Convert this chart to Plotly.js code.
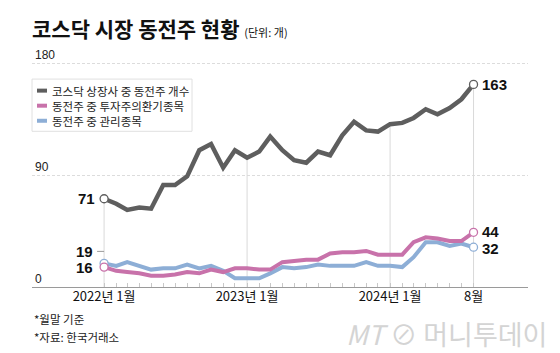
<!DOCTYPE html>
<html>
<head>
<meta charset="utf-8">
<script src="https://cdn.plot.ly/plotly-3.0.1.min.js"></script>
<style>
  html, body { margin: 0; padding: 0; background: #fff; }
  #chart { width: 560px; height: 353px; }
</style>
</head>
<body>
<div id="chart"></div>
<script>
// ---- data (month-end values) ----
const months = [
  '2022-01','2022-02','2022-03','2022-04','2022-05','2022-06','2022-07','2022-08','2022-09','2022-10','2022-11','2022-12',
  '2023-01','2023-02','2023-03','2023-04','2023-05','2023-06','2023-07','2023-08','2023-09','2023-10','2023-11','2023-12',
  '2024-01','2024-02','2024-03','2024-04','2024-05','2024-06','2024-07','2024-08'
];
const pennyStocks = [71,67,62,64,63,82,82,89,110,115,96,110,104,109,121,110,102,100,109,106,122,133,126,125,131,132,136,143,139,144,151,163];
const investmentAlert = [16,13,12,11,9,9,10,12,11,14,12,15,15,14,14,20,21,22,22,27,28,28,29,26,26,26,36,40,39,37,37,44];
const administrative = [19,17,20,17,14,15,15,18,15,17,13,7,7,7,11,16,15,16,18,17,17,17,20,17,17,16,24,36,36,33,35,32];

const seriesNames = ['코스닥 상장사 중 동전주 개수', '동전주 중 투자주의환기종목', '동전주 중 관리종목'];
const tickMonths = ['2022-01','2023-01','2024-01','2024-08'];
const tickLabels = ['2022년 1월','2023년 1월','2024년 1월','8월'];
const yTicks = [0, 90, 180];

// ---- styles ----
const colors = ['#5e5e5e', '#c872aa', '#8daed6'];
const KR = '"Noto Sans CJK KR", "Noto Sans", sans-serif';
const NUM = '"Liberation Sans Narrow", "Liberation Sans", Arial, sans-serif';

const seriesData = [pennyStocks, investmentAlert, administrative];
const last = months.length - 1;

// drop lines from the grey series at the labelled months
const dropX = [], dropY = [];
tickMonths.forEach(m => {
  const i = months.indexOf(m);
  dropX.push(months[i], months[i], null);
  dropY.push(0, pennyStocks[i], null);
});

const traces = [{
  x: dropX, y: dropY, mode: 'lines', hoverinfo: 'skip', showlegend: false,
  line: { color: '#d9d9d9', width: 1 }
}];

// draw blue, pink, then grey on top
[2, 1, 0].forEach(k => {
  traces.push({
    x: months, y: seriesData[k], mode: 'lines', name: seriesNames[k], showlegend: false,
    line: { color: colors[k], width: k === 0 ? 4.5 : 4, shape: 'linear' }
  });
});
[2, 1, 0].forEach(k => {
  traces.push({
    x: [months[0], months[last]], y: [seriesData[k][0], seriesData[k][last]],
    mode: 'markers', showlegend: false, hoverinfo: 'skip', cliponaxis: false,
    marker: { symbol: 'circle', size: 8, color: '#ffffff', line: { color: colors[k], width: 1.3 } }
  });
});

// ---- annotations ----
const labelFont = { family: NUM, size: 15, color: '#111', weight: 'bold' };
const annotations = [];
// start labels
annotations.push({ x: months[0], y: pennyStocks[0], xref: 'x', yref: 'y', text: String(pennyStocks[0]),
  showarrow: false, xanchor: 'right', yanchor: 'middle', xshift: -7, font: labelFont });
annotations.push({ x: months[0], y: administrative[0], xref: 'x', yref: 'y', text: String(administrative[0]),
  showarrow: false, xanchor: 'right', yanchor: 'middle', xshift: -9, yshift: 12, font: labelFont });
annotations.push({ x: months[0], y: investmentAlert[0], xref: 'x', yref: 'y', text: String(investmentAlert[0]),
  showarrow: false, xanchor: 'right', yanchor: 'middle', xshift: -9, font: labelFont });
// end labels
const endShift = [0, 1, -1];
[0, 1, 2].forEach(k => {
  annotations.push({ x: months[last], y: seriesData[k][last], xref: 'x', yref: 'y', text: String(seriesData[k][last]),
    showarrow: false, xanchor: 'left', yanchor: 'middle', xshift: 6, yshift: endShift[k], font: labelFont });
});

// manual legend
const legendRowsPx = [91.5, 106.5, 121.5];
const plotTop = 63, plotBottom = 287, plotLeft = 32, plotW = 496;
const py = v => (plotBottom - v) / (plotBottom - plotTop);
const px = v => (v - plotLeft) / plotW;
const shapes = [];
shapes.push({ type: 'rect', xref: 'paper', yref: 'paper', x0: px(32), x1: px(192), y0: py(132), y1: py(80),
  line: { color: '#e0e0e0', width: 1 }, fillcolor: '#ffffff', layer: 'above' });
seriesNames.forEach((name, k) => {
  shapes.push({ type: 'line', xref: 'paper', yref: 'paper', x0: px(37), x1: px(47), y0: py(legendRowsPx[k]), y1: py(legendRowsPx[k]),
    line: { color: colors[k], width: 4 }, layer: 'above' });
  annotations.push({ xref: 'paper', yref: 'paper', x: px(50), y: py(legendRowsPx[k]), text: name, showarrow: false,
    xanchor: 'left', yanchor: 'middle', font: { family: KR, size: 11.5, color: '#222' } });
});

// leader stub for the "19" label
shapes.push({ type: 'line', xref: 'x', yref: 'y', xsizemode: 'pixel', ysizemode: 'pixel',
  xanchor: months[0], yanchor: administrative[0], x0: -7, x1: 0, y0: 12, y1: 12,
  line: { color: '#999', width: 1 } });

// footer notes
annotations.push({ xref: 'paper', yref: 'paper', x: 0, y: py(319), text: '*월말 기준', showarrow: false,
  xanchor: 'left', yanchor: 'middle', font: { family: KR, size: 11.5, color: '#222' } });
annotations.push({ xref: 'paper', yref: 'paper', x: 0, y: py(337), text: '*자료: 한국거래소', showarrow: false,
  xanchor: 'left', yanchor: 'middle', font: { family: KR, size: 11.5, color: '#222' } });
// watermark
annotations.push({ xref: 'paper', yref: 'paper', x: px(549), y: py(333), text: '<i>MT</i> ⊘ 머니투데이', showarrow: false,
  xanchor: 'right', yanchor: 'middle', font: { family: KR, size: 27, color: '#d4d4d4' } });

const layout = {
  width: 560, height: 353,
  margin: { l: 32, r: 32, t: 62, b: 66, pad: 0 },
  paper_bgcolor: '#ffffff', plot_bgcolor: '#ffffff',
  showlegend: false,
  title: {
    text: '코스닥 시장 동전주 현황 <span style="font-size:11px;font-weight:normal">(단위: 개)</span>',
    x: 32 / 560, xanchor: 'left', xref: 'container',
    y: 1 - 30 / 353, yanchor: 'middle', yref: 'container',
    font: { family: KR, size: 21, color: '#111', weight: 'bold' }
  },
  xaxis: {
    type: 'date',
    range: ['2021-07-01', '2024-12-18'],
    tickmode: 'array',
    tickvals: months,
    ticktext: months.map(m => { const j = tickMonths.indexOf(m); return j >= 0 ? tickLabels[j] : ''; }),
    ticks: 'inside', ticklen: 4, tickcolor: '#c8c8c8', tickwidth: 1,
    showgrid: false, showline: false, zeroline: false,
    tickfont: { family: KR, size: 13, color: '#111' },
    fixedrange: true
  },
  yaxis: {
    range: [0, 181],
    tickmode: 'array', tickvals: yTicks, ticktext: yTicks.map(String),
    ticklabelposition: 'inside top',
    ticklabeloverflow: 'allow',
    showgrid: true, gridcolor: '#dcdcdc', griddash: '3px,2px', gridwidth: 1,
    zeroline: true, zerolinecolor: '#9a9a9a', zerolinewidth: 1,
    showline: false, ticks: '',
    tickfont: { family: NUM, size: 12, color: '#222' },
    fixedrange: true
  },
  shapes: shapes,
  annotations: annotations
};

Plotly.newPlot('chart', traces, layout, { displayModeBar: false, staticPlot: true });
</script>
</body>
</html>
